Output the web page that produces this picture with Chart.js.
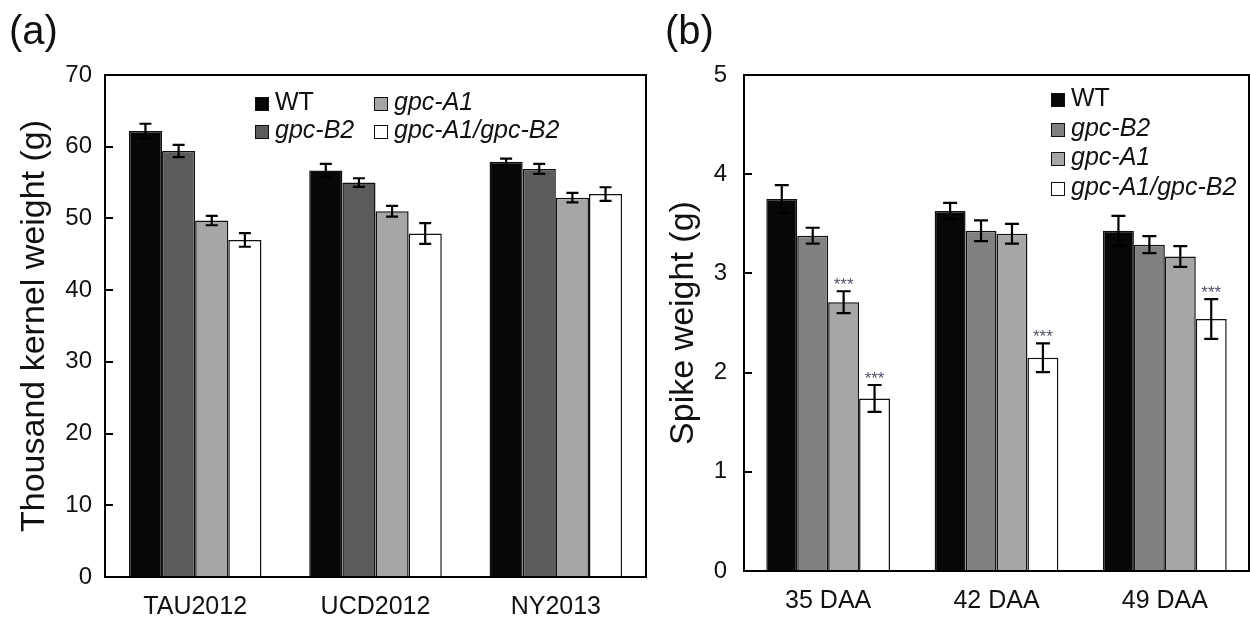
<!DOCTYPE html>
<html>
<head>
<meta charset="utf-8">
<script src="https://cdn.jsdelivr.net/npm/chart.js@4.4.1/dist/chart.umd.min.js"></script>
<style>
  html, body { margin: 0; padding: 0; background: #fff; }
  #wrap { position: relative; width: 1250px; height: 621px; overflow: hidden; font-family: "Liberation Sans", Arial, sans-serif; color: #111; }
  canvas { position: absolute; top: 0; }
  #cA { left: 0; }
  #cB { left: 660px; }
  .panel { position: absolute; font-size: 40px; line-height: 40px; top: 10px; }
  .leg { position: absolute; font-size: 25px; line-height: 28px; height: 28px; white-space: nowrap; }
  .leg .sw { display: inline-block; width: 12px; height: 12px; border: 1.5px solid #111; vertical-align: -1px; margin-right: 6px; }
  .leg i { font-style: italic; }
</style>
</head>
<body>
<div id="wrap">
  <canvas id="cA" width="660" height="621"></canvas>
  <canvas id="cB" width="590" height="621"></canvas>
  <div class="panel" style="left:9px">(a)</div>
  <div class="panel" style="left:665px">(b)</div>
  <div id="legA"></div>
  <div id="legB"></div>
</div>
<script>
// ---------- data ----------
const seriesNames = ['WT', 'gpc-B2', 'gpc-A1', 'gpc-A1/gpc-B2'];

// Panel (a): thousand kernel weight (g)
const categoriesA = ['TAU2012', 'UCD2012', 'NY2013'];
const wtA    = [62.2, 56.7, 57.9];
const b2A    = [59.4, 55.0, 56.9];
const a1A    = [49.7, 51.0, 52.9];
const a1b2A  = [47.0, 47.9, 53.4];
const wtAErr   = [1.0, 0.9, 0.45];
const b2AErr   = [0.85, 0.6, 0.7];
const a1AErr   = [0.65, 0.75, 0.65];
const a1b2AErr = [0.95, 1.45, 0.95];
const yTicksA = [0, 10, 20, 30, 40, 50, 60, 70];

// Panel (b): spike weight (g)
const categoriesB = ['35 DAA', '42 DAA', '49 DAA'];
const wtB    = [3.75, 3.63, 3.43];
const b2B    = [3.38, 3.43, 3.29];
const a1B    = [2.71, 3.40, 3.17];
const a1b2B  = [1.74, 2.15, 2.54];
const wtBErr   = [0.14, 0.08, 0.15];
const b2BErr   = [0.08, 0.105, 0.085];
const a1BErr   = [0.11, 0.10, 0.105];
const a1b2BErr = [0.135, 0.145, 0.20];
const sigA1B   = ['***', '', ''];
const sigA1B2B = ['***', '***', '***'];
const yTicksB = [0, 1, 2, 3, 4, 5];

// ---------- styles ----------
const FONT = '"Liberation Sans", Arial, sans-serif';
const colorsA = ['#060709', '#5b5b5b', '#a6a6a6', '#ffffff'];
const colorsB = ['#060709', '#808180', '#a6a6a6', '#ffffff'];

// ---------- plugins ----------
const frameAndErrors = {
  id: 'frameAndErrors',
  afterDatasetsDraw(chart, args, opts) {
    const ctx = chart.ctx;
    const ys = chart.scales.y;
    ctx.save();
    chart.data.datasets.forEach((ds, di) => {
      const meta = chart.getDatasetMeta(di);
      meta.data.forEach((bar, i) => {
        const v = ds.data[i], e = ds.errors[i];
        const yt = ys.getPixelForValue(v + e);
        const yb = ys.getPixelForValue(v - e);
        const x = bar.x, hw = opts.cap / 2;
        ctx.strokeStyle = '#000';
        ctx.lineWidth = opts.lw;
        ctx.beginPath();
        ctx.moveTo(x, yb); ctx.lineTo(x, yt);
        ctx.moveTo(x - hw, yt); ctx.lineTo(x + hw, yt);
        ctx.moveTo(x - hw, yb); ctx.lineTo(x + hw, yb);
        ctx.stroke();
        if (ds.sig && ds.sig[i]) {
          ctx.fillStyle = '#4d5466';
          ctx.font = '17px ' + FONT;
          ctx.textAlign = 'center';
          ctx.textBaseline = 'alphabetic';
          ctx.fillText(ds.sig[i], x, yt - 1);
        }
      });
    });
    const a = chart.chartArea;
    ctx.strokeStyle = '#000';
    ctx.lineWidth = 2;
    ctx.strokeRect(a.left, a.top, a.right - a.left, a.bottom - a.top);
    ctx.restore();
  }
};

function makeDatasets(vals, errs, colors, sigs) {
  return vals.map((v, k) => ({
    label: seriesNames[k],
    data: v,
    errors: errs[k],
    sig: sigs ? sigs[k] : null,
    backgroundColor: colors[k],
    borderColor: '#111',
    borderWidth: 1.5,
    categoryPercentage: 0.735,
    barPercentage: 1.0
  }));
}

function makeChart(id, cats, datasets, yTicks, yMax, yTitle, cfg) {
  return new Chart(document.getElementById(id), {
    type: 'bar',
    data: { labels: cats, datasets: datasets },
    plugins: [frameAndErrors],
    options: {
      responsive: false,
      animation: false,
      devicePixelRatio: 1,
      layout: { padding: { left: 0, right: cfg.padRight, top: 75, bottom: 0 } },
      plugins: {
        legend: { display: false },
        tooltip: { enabled: false },
        frameAndErrors: { cap: cfg.cap, lw: 2.2 }
      },
      scales: {
        x: {
          grid: { display: false, drawTicks: false },
          border: { display: false },
          ticks: { color: '#111', font: { family: FONT, size: 25 }, padding: 15 },
          afterFit(s) { s.height = cfg.xHeight; }
        },
        y: {
          min: 0, max: yMax,
          afterBuildTicks(s) { s.ticks = yTicks.map(v => ({ value: v })); },
          grid: { drawOnChartArea: false, drawTicks: true, tickLength: -8, lineWidth: 2, color: '#000' },
          border: { display: false },
          ticks: { color: '#111', font: { family: FONT, size: 24 }, padding: cfg.tickPad },
          title: { display: true, text: yTitle, color: '#111', font: { family: FONT, size: cfg.titleSize, lineHeight: 1 }, padding: { top: cfg.titlePad, bottom: 0 } },
          afterFit(s) { s.width = cfg.yWidth; }
        }
      }
    }
  });
}

makeChart('cA', categoriesA,
  makeDatasets([wtA, b2A, a1A, a1b2A], [wtAErr, b2AErr, a1AErr, a1b2AErr], colorsA, null),
  yTicksA, 70, 'Thousand kernel weight (g)',
  { padRight: 14, xHeight: 44, yWidth: 105, tickPad: 21, titleSize: 34, titlePad: 18, cap: 12 });

makeChart('cB', categoriesB,
  makeDatasets([wtB, b2B, a1B, a1b2B], [wtBErr, b2BErr, a1BErr, a1b2BErr], colorsB, [null, null, sigA1B, sigA1B2B]),
  yTicksB, 5, 'Spike weight (g)',
  { padRight: 1, xHeight: 50, yWidth: 84, tickPad: 25, titleSize: 34, titlePad: 7, cap: 14 });

// ---------- legends (HTML, built from the series) ----------
function legendItem(parent, k, colors, left, top) {
  const d = document.createElement('div');
  d.className = 'leg';
  d.style.left = left + 'px';
  d.style.top = top + 'px';
  const sw = document.createElement('span');
  sw.className = 'sw';
  sw.style.background = colors[k];
  d.appendChild(sw);
  const name = seriesNames[k];
  const t = document.createElement(name === 'WT' ? 'span' : 'i');
  t.textContent = name;
  d.appendChild(t);
  parent.appendChild(d);
}
const legA = document.getElementById('legA');
// column-major, two columns
[[0, 255, 87], [1, 255, 115], [2, 374, 87], [3, 374, 115]].forEach(p => legendItem(legA, p[0], colorsA, p[1], p[2]));
const legB = document.getElementById('legB');
[0, 1, 2, 3].forEach(k => legendItem(legB, k, colorsB, 1051, 83 + k * 29.5));
</script>
</body>
</html>
